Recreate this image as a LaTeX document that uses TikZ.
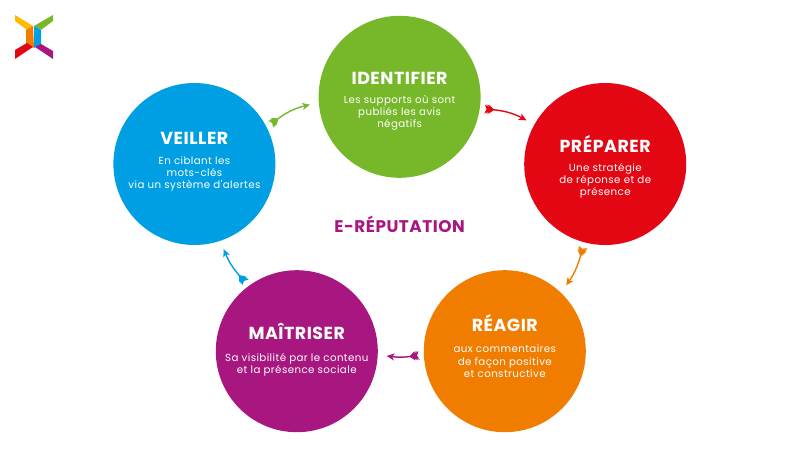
\documentclass[tikz,border=0pt]{standalone}
\usepackage{fontspec}
\setmainfont{Poppins}
\newfontfamily\bodyfont[LetterSpace=4]{Poppins}
\newfontfamily\titlefont[LetterSpace=3]{Poppins}
\usepackage{xcolor}
\usetikzlibrary{arrows.meta,positioning}
\definecolor{cyclegreen}{HTML}{76B82A}
\definecolor{cyclered}{HTML}{E30613}
\definecolor{cycleorange}{HTML}{F07D00}
\definecolor{cyclepurple}{HTML}{A8177F}
\definecolor{cycleblue}{HTML}{009FE3}
\definecolor{logoyellow}{HTML}{FFB900}
\tikzset{
  cyclestep/.style={
    circle,
    fill=#1,
    inner sep=0pt,
    outer sep=0.225cm,
    minimum size=4.05cm
  },
  steptitle/.style={
    text=white,
    inner sep=0pt,
    font=\titlefont\fontsize{12.4}{14}\selectfont\bfseries
  },
  stepbody/.style={
    text=white,
    inner sep=0pt,
    align=center,
    font=\bodyfont\fontsize{7.3}{8.6}\selectfont
  },
  fletching/.tip={Stealth[reversed,length=4pt,width=6.5pt,inset=1.5pt,sep=-3pt]},
  cyclearrow/.style={
    draw=#1,
    line width=1pt,
    {fletching[]fletching[]fletching[]fletching[]}-{Stealth[length=5.5pt,width=5pt,inset=1.5pt]}
  }
}
\begin{document}
\begin{tikzpicture}
\useasboundingbox (0,0) rectangle (20,11.25);
% circles
\node[cyclestep=cyclegreen] (identifier) at (9.99,8.83) {};
\node[cyclestep=cyclered] (preparer) at (15.13,7.15) {};
\node[cyclestep=cycleorange] (reagir) at (12.62,2.47) {};
\node[cyclestep=cyclepurple] (maitriser) at (7.42,2.47) {};
\node[cyclestep=cycleblue] (veiller) at (4.86,7.15) {};
% labels
\node[steptitle] (identifiertitle) at ([yshift=0.47cm]identifier.center) {IDENTIFIER};
\node[stepbody, below=0.27cm of identifiertitle] (identifierbody) {Les supports où sont\\publiés les avis\\négatifs};
\node[steptitle] (preparertitle) at ([yshift=0.49cm]preparer.center) {PRÉPARER};
\node[stepbody, below=0.24cm of preparertitle] (preparerbody) {Une stratégie\\de réponse et de\\présence};
\node[steptitle] (reagirtitle) at ([yshift=0.7cm]reagir.center) {RÉAGIR};
\node[stepbody, below=0.32cm of reagirtitle] (reagirbody) {aux commentaires\\de façon positive\\et constructive};
\node[steptitle] (maitrisertitle) at ([yshift=0.5cm]maitriser.center) {MAÎTRISER};
\node[stepbody, below=0.33cm of maitrisertitle] (maitriserbody) {Sa visibilité par le contenu\\et la présence sociale};
\node[steptitle] (veillertitle) at ([yshift=0.63cm]veiller.center) {VEILLER};
\node[stepbody, below=0.27cm of veillertitle] (veillerbody) {En ciblant les\\mots-clés\\via un système d'alertes};
\node[steptitle, text=cyclepurple, font=\titlefont\fontsize{12}{14}\selectfont\bfseries] (ereputation) at (9.99,5.64) {E-RÉPUTATION};
% arrows
\draw[cyclearrow=cyclegreen] (veiller.28) to[bend left=12] (identifier.185);
\draw[cyclearrow=cyclered] (identifier.352) to[bend left=12] (preparer.151);
\draw[cyclearrow=cycleorange] (preparer.255) to[bend left=10] (reagir.47);
\draw[cyclearrow=cyclepurple] (reagir.183) to[bend left=8] (maitriser.357);
\draw[cyclearrow=cycleblue] (maitriser.127) to[bend left=10] (veiller.289);
% logo
\fill[logoyellow] (0.375,10.875) -- (0.375,10.725) -- (0.675,10.5) -- (0.825,10.6) -- cycle;
\fill[cyclegreen] (1.325,10.875) -- (1.325,10.725) -- (1.025,10.5) -- (0.85,10.6) -- cycle;
\fill[cycleorange] (0.825,10.6) -- (0.65,10.5) -- (0.65,10.15) -- (0.85,10.05) -- cycle;
\fill[cycleblue] (0.85,10.6) -- (1.025,10.5) -- (1.025,10.15) -- (0.85,10.05) -- cycle;
\fill[cyclered] (0.375,9.775) -- (0.375,10) -- (0.675,10.175) -- (0.825,10.075) -- cycle;
\fill[cyclepurple] (1.325,9.775) -- (1.325,9.975) -- (1.025,10.15) -- (0.875,10.075) -- cycle;
\end{tikzpicture}
\end{document}
